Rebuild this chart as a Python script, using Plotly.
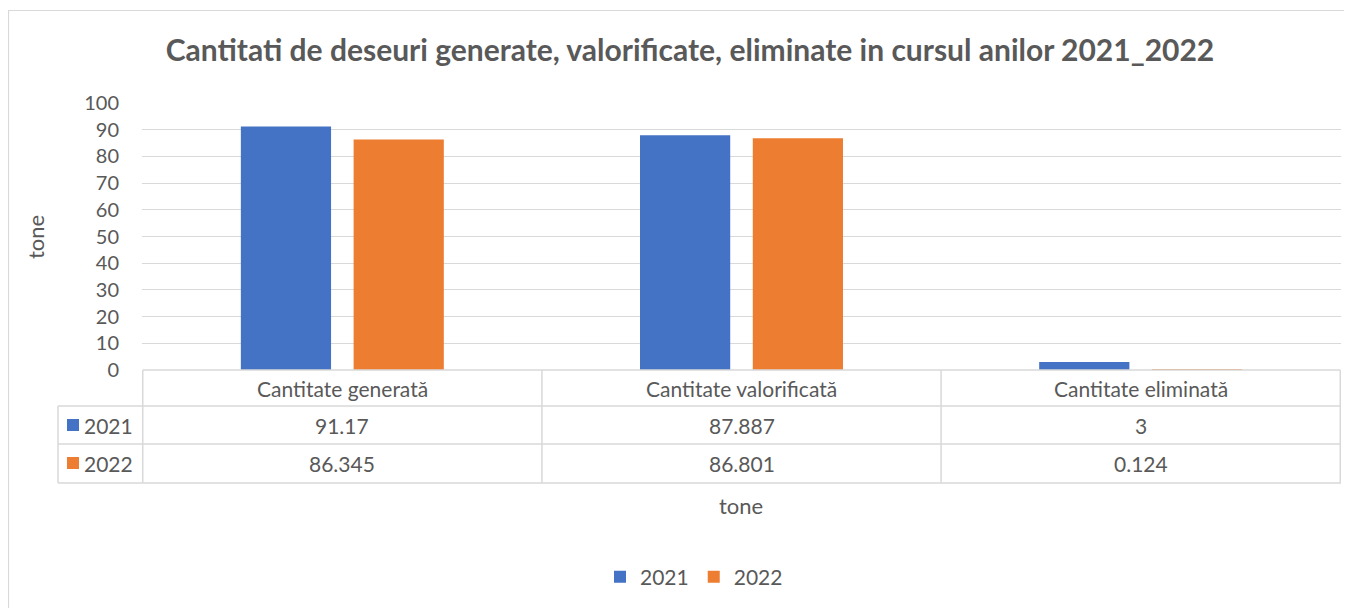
import plotly.graph_objects as go

categories = ["Cantitate generată", "Cantitate valorificată", "Cantitate eliminată"]
years = ["2021", "2022"]
values_2021 = [91.17, 87.887, 3]
values_2022 = [86.345, 86.801, 0.124]
y_ticks = list(range(0, 101, 10))

colors = {"2021": "#4472C4", "2022": "#ED7D31"}
series = {"2021": values_2021, "2022": values_2022}

FONT = "Lato"
TXT = "#595959"
GRID = "#D9D9D9"

# page has an 8px body margin; figure sized so it ends at the window edge
OFF = 8
W, H = 1352 - OFF, 608 - OFF
PL, PR, PT, PB = 142, 1341, 103, 370  # plot area in page pixels
L, R, T, B = PL - OFF, (W + OFF) - PR, PT - OFF, (H + OFF) - PB
PH = PB - PT
PW = PR - PL

def py(p):
    return (PB - p) / PH

def px(p):
    return (p - PL) / PW

fig = go.Figure()
for yr in years:
    fig.add_trace(go.Bar(x=categories, y=series[yr], name=yr,
                         marker=dict(color=colors[yr], line=dict(width=0))))

shapes = []
line = dict(color=GRID, width=1.5)
shapes.append(dict(type="line", xref="x", yref="paper", x0=-0.5, x1=len(categories) - 0.5,
                   y0=py(370), y1=py(370), line=line))
for yy in [406, 444, 483]:
    shapes.append(dict(type="line", xref="paper", yref="paper", x0=px(58), x1=px(PR),
                       y0=py(yy), y1=py(yy), line=line))
shapes.append(dict(type="line", xref="paper", yref="paper", x0=px(58), x1=px(58),
                   y0=py(406), y1=py(483), line=line))
for i in range(len(categories) + 1):
    shapes.append(dict(type="line", xref="x", yref="paper", x0=i - 0.5, x1=i - 0.5,
                       y0=py(370), y1=py(483), line=line))
shapes.append(dict(type="rect", xref="paper", yref="paper", x0=px(8.5), x1=px(1345), y0=py(612), y1=py(10.5),
                   line=dict(color=GRID, width=1.2), fillcolor="rgba(0,0,0,0)", layer="below"))
row_y = {"2021": 425, "2022": 463}
for yr in years:
    shapes.append(dict(type="rect", xref="paper", yref="paper", x0=px(67), x1=px(79),
                       y0=py(row_y[yr] + 6), y1=py(row_y[yr] - 6), fillcolor=colors[yr], line=dict(width=0)))

annotations = []
tf = dict(family=FONT, size=21, color=TXT)
for i, c in enumerate(categories):
    annotations.append(dict(x=c, y=py(388), xref="x", yref="paper", text=c, showarrow=False,
                            xanchor="center", yanchor="middle", font=tf))
    for yr in years:
        annotations.append(dict(x=c, y=py(row_y[yr]), xref="x", yref="paper", text=f"{series[yr][i]:g}",
                                showarrow=False, xanchor="center", yanchor="middle", font=tf))
for yr in years:
    annotations.append(dict(x=px(82), y=py(row_y[yr]), xref="paper", yref="paper", text=yr, xanchor="left",
                            yanchor="middle", showarrow=False, font=tf))
annotations.append(dict(x=px(741), y=py(505), xref="paper", yref="paper", text="tone", showarrow=False,
                        xanchor="center", yanchor="middle", font=dict(family=FONT, size=22, color=TXT)))
annotations.append(dict(x=px(35), y=py(237), xref="paper", yref="paper", text="tone", showarrow=False,
                        xanchor="center", yanchor="middle", textangle=-90,
                        font=dict(family=FONT, size=22, color=TXT)))

fig.update_layout(
    width=W, height=H,
    margin=dict(l=L, r=R, t=T, b=B),
    paper_bgcolor="white", plot_bgcolor="white",
    title=dict(text="<b>Cantitati de deseuri generate, valorificate, eliminate in cursul anilor 2021_2022</b>",
               x=(690 - OFF) / W, xanchor="center", y=1 - (50 - OFF) / H, yanchor="middle",
               font=dict(family=FONT, size=30, color=TXT)),
    barmode="group", bargap=0.435, bargroupgap=0.2,
    xaxis=dict(showticklabels=False, showgrid=False, zeroline=False, showline=False, ticks=""),
    yaxis=dict(range=[0, 100], tickvals=y_ticks, showgrid=True, gridcolor=GRID, gridwidth=1.2,
               zeroline=False, showline=False, ticks="", ticklabelstandoff=22,
               tickfont=dict(family=FONT, size=20, color=TXT)),
    legend=dict(orientation="h", x=px(694), xanchor="center", y=py(577), yanchor="middle",
                font=dict(family=FONT, size=21, color=TXT), traceorder="normal"),
    shapes=shapes, annotations=annotations,
)

fig.write_html("out.html")
